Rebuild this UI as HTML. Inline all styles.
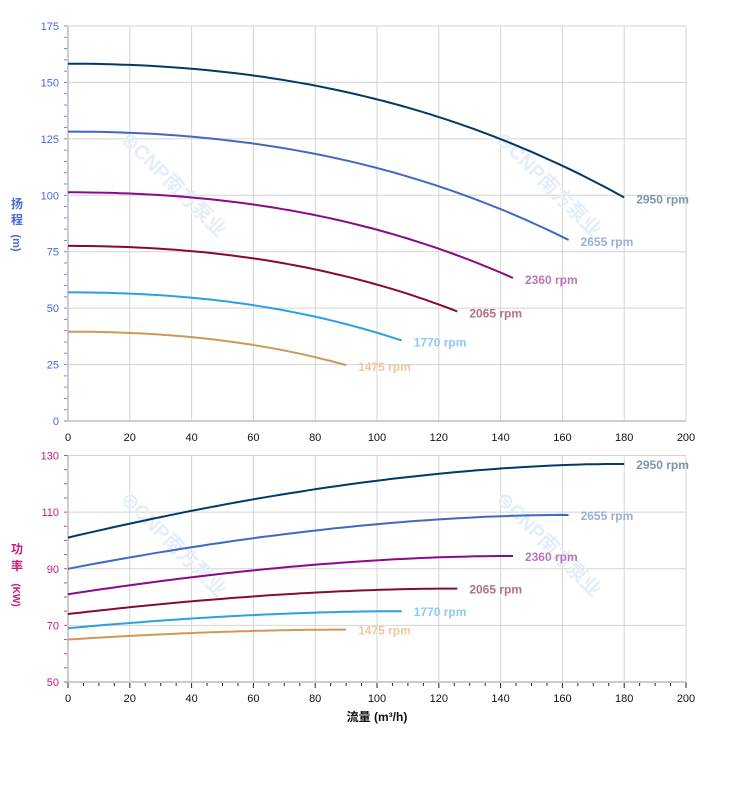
<!DOCTYPE html><html><head><meta charset="utf-8"><style>
html,body{margin:0;padding:0;background:#fff;width:752px;height:797px;overflow:hidden}
svg{display:block}
text{font-family:"Liberation Sans","Noto Sans CJK SC",sans-serif}
</style></head><body>
<svg id="s" width="752" height="797" xmlns="http://www.w3.org/2000/svg"></svg>
<script>
const s=document.getElementById('s');let h='';
const X0=68,X1=686,xs=q=>X0+(X1-X0)*q/200;
const T0=421,T1=26,ty=v=>T0+(T1-T0)*v/175;
const B0=682,B1=455.5,by=v=>B0+(B1-B0)*(v-50)/80;
for(let q=0;q<=200;q+=20){h+=`<line x1="${xs(q)}" y1="${T1}" x2="${xs(q)}" y2="${T0}" stroke="#d4d4d4"/>`;
h+=`<line x1="${xs(q)}" y1="${B1}" x2="${xs(q)}" y2="${B0}" stroke="#d4d4d4"/>`;
h+=`<text x="${xs(q)}" y="441" font-size="11" text-anchor="middle" fill="#111">${q}</text>`;
h+=`<text x="${xs(q)}" y="702" font-size="11" text-anchor="middle" fill="#111">${q}</text>`;}
for(let v=0;v<=175;v+=25){h+=`<line x1="${X0}" y1="${ty(v)}" x2="${X1}" y2="${ty(v)}" stroke="#d4d4d4"/>`;
h+=`<text x="59" y="${ty(v)+4}" font-size="11" text-anchor="end" fill="#4a66e0">${v}</text>`;}
for(let v=0;v<=175;v+=5)h+=`<line x1="64" y1="${ty(v)}" x2="68" y2="${ty(v)}" stroke="#6a86ee"/>`;
for(let v=50;v<=130;v+=20){h+=`<line x1="${X0}" y1="${by(v)}" x2="${X1}" y2="${by(v)}" stroke="#d4d4d4"/>`;
h+=`<text x="59" y="${by(v)+4}" font-size="11" text-anchor="end" fill="#c0207a">${v}</text>`;}
for(let v=50;v<=130;v+=5)h+=`<line x1="64" y1="${by(v)}" x2="68" y2="${by(v)}" stroke="#d04090"/>`;
for(let q=0;q<=200;q+=5)h+=`<line x1="${xs(q)}" y1="${B0}" x2="${xs(q)}" y2="${B0+(q%20?4:6)}" stroke="#222"/>`;
h+=`<line x1="${X0}" y1="${T1}" x2="${X0}" y2="${T0}" stroke="#ccc" stroke-width="2"/><line x1="${X0}" y1="${T0}" x2="${X1}" y2="${T0}" stroke="#ccc" stroke-width="2"/>`;
h+=`<line x1="${X0}" y1="${B1}" x2="${X0}" y2="${B0}" stroke="#ccc" stroke-width="2"/><line x1="${X0}" y1="${B0}" x2="${X1}" y2="${B0}" stroke="#ccc" stroke-width="2"/>`;
[[120,140],[495,140],[120,500],[495,500]].forEach(([x,y])=>{h+=`<text x="${x}" y="${y}" transform="rotate(45 ${x} ${y})" font-size="20" font-weight="bold" fill="#e4eef8">⊜CNP南方泵业</text>`});
const C=[[2950,'#003a6b','#7d96ac',101,127],[2655,'#4169c0','#9aaed6',90,109],[2360,'#8b0a8b','#b877b8',81,94.5],[2065,'#870a36','#b6707e',74,83],[1770,'#2ea0e0','#8ccaf0',69,75],[1475,'#d09858','#ecc8a0',65,68.5]];
const HF=u=>158.3-0.001267*u*u-3.125e-6*u*u*u;
C.forEach(([n,c,lc,p0,p1])=>{const r=n/2950,qm=180*r;let a='',b='';
for(let i=0;i<=60;i++){const q=qm*i/60,u=q/r;const H=r*r*HF(u);const t=i/60;const P=p0+(p1-p0)*(1-Math.pow(1-t,1.7))+(p1-p0)*0.025*Math.sin(Math.PI*t);
a+=(i?'L':'M')+xs(q).toFixed(1)+' '+ty(H).toFixed(1);b+=(i?'L':'M')+xs(q).toFixed(1)+' '+by(P).toFixed(1);}
h+=`<path d="${a}" fill="none" stroke="${c}" stroke-width="2"/><path d="${b}" fill="none" stroke="${c}" stroke-width="2"/>`;
const He=r*r*HF(180);
h+=`<text x="${xs(qm)+12}" y="${ty(He)+6}" font-size="12" font-weight="bold" fill="${lc}">${n} rpm</text>`;
h+=`<text x="${xs(qm)+12}" y="${by(p1)+5}" font-size="12" font-weight="bold" fill="${lc}">${n} rpm</text>`;});
h+=`<text x="17" y="208" font-size="12" font-weight="bold" fill="#4a66e0" text-anchor="middle">扬</text><text x="17" y="224" font-size="12" font-weight="bold" fill="#4a66e0" text-anchor="middle">程</text><text x="17" y="243" font-size="11" font-weight="bold" fill="#4a66e0" text-anchor="middle" transform="rotate(90 17 243)" dy="4">(m)</text>`;
h+=`<text x="17" y="553" font-size="12" font-weight="bold" fill="#c0207a" text-anchor="middle">功</text><text x="17" y="570" font-size="12" font-weight="bold" fill="#c0207a" text-anchor="middle">率</text><text x="17" y="595" font-size="10" font-weight="bold" fill="#c0207a" text-anchor="middle" transform="rotate(90 17 595)" dy="4">(KW)</text>`;
h+=`<text x="377" y="721" font-size="12" font-weight="bold" fill="#111" text-anchor="middle">流量 (m³/h)</text>`;
s.innerHTML=h;
</script></body></html>
